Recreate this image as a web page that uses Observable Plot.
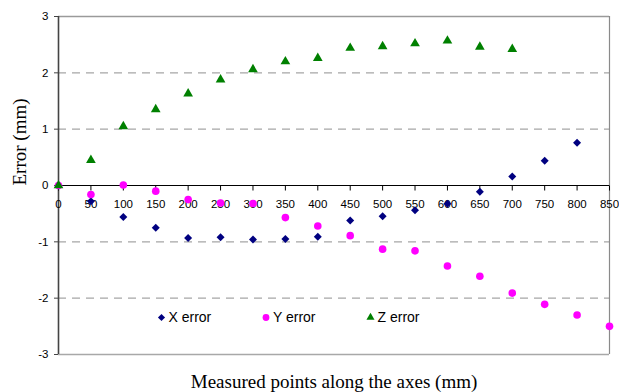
<!DOCTYPE html>
<html>
<head>
<meta charset="utf-8">
<script src="https://cdn.jsdelivr.net/npm/d3@7"></script>
<script src="https://cdn.jsdelivr.net/npm/@observablehq/plot@0.6"></script>
<style>
  html, body { margin: 0; padding: 0; background: #fff; }
</style>
</head>
<body>
<div id="chart"></div>
<script>
// ---- data ----
const positions = [0, 50, 100, 150, 200, 250, 300, 350, 400, 450, 500, 550, 600, 650, 700, 750, 800, 850];
const xError = [0, -0.28, -0.56, -0.75, -0.93, -0.92, -0.96, -0.95, -0.91, -0.62, -0.545, -0.44, -0.325, -0.11, 0.16, 0.44, 0.76];
const yError = [0, -0.16, 0.01, -0.10, -0.25, -0.31, -0.32, -0.57, -0.72, -0.89, -1.13, -1.16, -1.43, -1.61, -1.91, -2.11, -2.30, -2.50];
const zError = [0, 0.45, 1.05, 1.35, 1.63, 1.88, 2.06, 2.20, 2.26, 2.44, 2.47, 2.52, 2.57, 2.46, 2.42];
const seriesNames = ["X error", "Y error", "Z error"];
const seriesColors = ["#000080", "#FF00FF", "#008000"];
const seriesSymbols = ["diamond2", "circle", "triangle"];
const seriesRadius = [3.6, 3.8, 3.6];
const legendRadius = [3.2, 3.4, 3.0];
const xTicks = [0, 50, 100, 150, 200, 250, 300, 350, 400, 450, 500, 550, 600, 650, 700, 750, 800, 850];
const yTicks = [-3, -2, -1, 0, 1, 2, 3];
const gridValues = [-2, -1, 1, 2];
const xTitle = "Measured points along the axes (mm)";
const yTitle = "Error (mm)";

const seriesValues = [xError, yError, zError];
const rows = seriesValues.map((vals, s) =>
  vals.map((v, i) => ({pos: positions[i], err: v, series: seriesNames[s]})));

const tickSymbol = {draw(ctx) { ctx.moveTo(0, 0); ctx.lineTo(0, 5); }};

const legendMarks = seriesNames.flatMap((name, i) => [
  Plot.dot([name], {frameAnchor: "bottom-left", dx: 103 + i * 104.5, dy: -37,
    symbol: seriesSymbols[i], fill: seriesColors[i], stroke: "none", r: legendRadius[i]}),
  Plot.text([name], {frameAnchor: "bottom-left", dx: 110 + i * 104.5, dy: -37, lineAnchor: "middle",
    text: d => d, textAnchor: "start", fontSize: 14, fill: "#000"})
]);

const chart = Plot.plot({
  width: 619,
  height: 392,
  marginLeft: 58,
  marginRight: 10,
  marginTop: 16,
  marginBottom: 38,
  style: {fontFamily: "'Liberation Sans', Arial, sans-serif", fontSize: "11px", background: "#fff", color: "#000"},
  x: {domain: [0, 850], axis: null},
  y: {domain: [-3, 3], axis: null},
  marks: [
    // gridlines
    Plot.ruleY(gridValues, {stroke: "#a6a6a6", strokeWidth: 1.2, strokeDasharray: "8,6"}),
    // frame borders
    Plot.ruleY([3], {stroke: "#9a9a9a", strokeWidth: 1.3}),
    Plot.ruleY([-3], {stroke: "#a8a8a8", strokeWidth: 1.5}),
    Plot.ruleX([850], {stroke: "#8a8a8a", strokeWidth: 1.2}),
    // y axis
    Plot.axisY({ticks: yTicks, tickSize: 4, tickPadding: 6, tickFormat: d => String(d), fontSize: 11.5, label: null, stroke: "#444"}),
    Plot.ruleX([0], {stroke: "#444", strokeWidth: 1.6}),
    // x axis along y = 0
    Plot.ruleY([0], {stroke: "#000", strokeWidth: 1.2}),
    Plot.dot(xTicks, {x: d => d, y: 0, symbol: tickSymbol, fill: "none", stroke: "#000", strokeWidth: 1}),
    Plot.text(xTicks, {x: d => d, y: 0, dy: 19, text: d => String(d), fontSize: 11.5, fill: "#000"}),
    // series
    ...rows.map((data, s) => Plot.dot(data, {x: "pos", y: "err", symbol: seriesSymbols[s],
      fill: seriesColors[s], stroke: "none", r: seriesRadius[s]})),
    // legend
    ...legendMarks,
    // titles
    Plot.text([xTitle], {frameAnchor: "bottom", dy: 33, lineAnchor: "bottom", text: d => d,
      fontFamily: "'Liberation Serif', 'Times New Roman', serif", fontSize: 19, fill: "#000"}),
    Plot.text([yTitle], {frameAnchor: "left", dx: -33, rotate: -90, lineAnchor: "bottom", text: d => d,
      fontFamily: "'Liberation Serif', 'Times New Roman', serif", fontSize: 19, fill: "#000"})
  ]
});
document.getElementById("chart").appendChild(chart);
</script>
</body>
</html>
